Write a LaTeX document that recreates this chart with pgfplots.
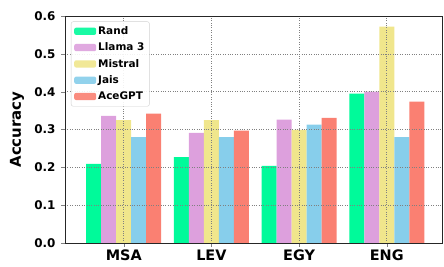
\documentclass[border=0pt]{standalone}
\usepackage{pgfplots}
\pgfplotsset{compat=1.18}
\usepackage{fontspec}
\setmainfont{DejaVu Sans}
\definecolor{cRand}{RGB}{0,250,154}
\definecolor{cLlama}{RGB}{221,160,221}
\definecolor{cMistral}{RGB}{240,230,140}
\definecolor{cJais}{RGB}{135,206,235}
\definecolor{cAce}{RGB}{250,128,114}
\begin{document}
\begin{tikzpicture}
\path[use as bounding box] (-65bp,-24bp) rectangle (379bp,243bp);
\begin{axis}[
  scale only axis,
  width=377bp, height=227bp,
  ybar=0pt, bar width=15bp,
  xmin=-0.67, xmax=3.63,
  ymin=0, ymax=0.6,
  xtick={0,1,2,3},
  xticklabels={MSA,LEV,EGY,ENG},
  ytick={0,0.1,0.2,0.3,0.4,0.5,0.6},
  /pgf/number format/fixed,
  /pgf/number format/fixed zerofill,
  /pgf/number format/precision=1,
  /pgf/number format/assume math mode=true,
  yticklabel style={font=\bfseries\fontsize{12}{14}\selectfont, xshift=-2.5bp},
  xticklabel style={font=\bfseries\fontsize{14.5}{16}\selectfont},
  ylabel={Accuracy},
  ylabel style={font=\bfseries\fontsize{15}{17}\selectfont, at={(axis description cs:-0.127,0.5)}, anchor=center},
  tick align=outside,
  tick pos=left,
  major tick length=3.5bp,
  axis on top,
  grid=major,
  major grid style={dotted, black!50, line width=0.6pt},
  axis line style={black!85},
  legend style={at={(6bp,221.5bp)}, anchor=north west, font=\bfseries\fontsize{10.5}{12}\selectfont,
    draw=black!18, rounded corners=2pt, inner sep=3bp, row sep=2.9bp, fill=white, fill opacity=0.9, text opacity=1},
  legend cell align=left,
  legend image code/.code={\fill[#1] (0bp,-3.5bp) rectangle (22bp,3.8bp);},
]
\addplot[fill=cRand, draw=none] coordinates {(0,0.209) (1,0.227) (2,0.204) (3,0.395)};
\addplot[fill=cLlama, draw=none] coordinates {(0,0.336) (1,0.291) (2,0.326) (3,0.400)};
\addplot[fill=cMistral, draw=none] coordinates {(0,0.325) (1,0.325) (2,0.299) (3,0.572)};
\addplot[fill=cJais, draw=none] coordinates {(0,0.280) (1,0.280) (2,0.313) (3,0.280)};
\addplot[fill=cAce, draw=none] coordinates {(0,0.342) (1,0.297) (2,0.331) (3,0.374)};
\legend{Rand,Llama 3,Mistral,Jais,AceGPT}
\end{axis}
\end{tikzpicture}
\end{document}
